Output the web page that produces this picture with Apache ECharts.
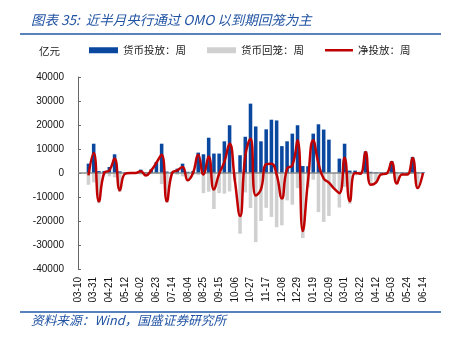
<!DOCTYPE html>
<html>
<head>
<meta charset="utf-8">
<script src="https://cdn.jsdelivr.net/npm/echarts@6/dist/echarts.min.js"></script>
<style>
html,body{margin:0;padding:0;background:#fff;}
#c{width:454px;height:341px;}
</style>
</head>
<body>
<div id="c"></div>
<script>
var categories = ['03-10','03-17','03-24','03-31','04-07','04-14','04-21','04-28','05-05','05-12','05-19','05-26',
'06-02','06-09','06-16','06-23','06-30','07-07','07-14','07-21','07-28','08-04','08-11',
'08-18','08-25','09-01','09-08','09-15','09-22','09-29','10-06','10-13','10-20','10-27',
'11-03','11-10','11-17','11-24','12-01','12-08','12-15','12-22','12-29','01-05','01-12',
'01-19','01-26','02-02','02-09','02-16','02-23','03-01','03-08','03-15','03-22','03-29',
'04-05','04-12','04-19','04-26','05-03','05-10','05-17','05-24','05-31','06-07','06-14'];

var injection = [null,null,3900,12200,800,800,2500,7800,700,300,200,300,
1400,300,1500,4600,12200,600,500,1800,3900,500,800,
8500,7800,14700,8100,8100,13200,19900,0,7400,15100,28900,
19400,13200,18200,22200,21900,11200,13200,16400,19900,2900,2800,
16400,20300,18100,13900,0,6000,12200,1000,1000,500,9000,
500,300,300,400,4900,300,300,300,6700,300,300];

var withdrawal = [null,null,-4900,-3900,-12600,-800,-1400,-1800,-7900,-600,-200,-300,
-700,-1300,-400,-300,-4600,-12400,-500,-700,-1400,-3500,-800,
-900,-8400,-7800,-15000,-8400,-8600,-7700,-3000,-25300,-8100,-14600,
-28800,-20000,-14500,-18300,-22600,-21800,-11400,-13200,-6300,-27100,-6000,
-2800,-16300,-20400,-17900,-6500,-14400,-5800,-12800,-1000,-800,-300,
-5400,-4300,-900,-700,-300,-4700,-900,-900,-400,-6600,-300];

var netInjection = [null,null,-1000,8300,-11800,0,1100,6000,-7200,-300,0,0,
700,-1000,1100,4300,7600,-11800,0,1100,2500,-3000,0,
7600,-600,6900,-6900,-300,4600,12200,-3000,-17900,7000,14300,
-9400,-6800,3700,3900,-700,-10600,1800,3200,13600,-24200,-3200,
13600,4000,-2300,-4000,-6500,-8400,6400,-11800,0,-300,8700,
-4900,-4000,-600,-300,4600,-4400,-600,-600,6300,-6300,0];

var seriesNames = ['货币投放：周','货币回笼：周','净投放：周'];
var yTicks = {min:-40000, max:40000, interval:10000};

var chart = echarts.init(document.getElementById('c'), null, {renderer:'canvas'});
var labelFont = 'Liberation Sans, Arial, sans-serif';
var cjk = '"Noto Sans CJK SC", sans-serif';
var legendText = {fontSize:10.5, color:'#222', fontFamily:cjk};

chart.setOption({
  animation:false,
  backgroundColor:'#fff',
  grid:{left:78, right:31, top:77, bottom:72, containLabel:false},
  legend:[
    {data:[{name:seriesNames[0], icon:'rect'}], left:89, top:45, itemWidth:29, itemHeight:6, itemGap:2, textStyle:legendText, padding:0, selectedMode:false},
    {data:[{name:seriesNames[1], icon:'rect'}], left:207, top:45, itemWidth:29, itemHeight:6, itemGap:2, textStyle:legendText, padding:0, selectedMode:false},
    {data:[{name:seriesNames[2], icon:'rect'}], left:325, top:45, itemWidth:28, itemHeight:2.5, itemGap:2, textStyle:legendText, padding:0, selectedMode:false}
  ],
  xAxis:{
    type:'category', data:categories, boundaryGap:false,
    axisLine:{show:false}, axisTick:{show:false},
    axisLabel:{interval:2, rotate:90, fontSize:10, color:'#111', fontFamily:labelFont, margin:8},
    splitLine:{show:false}
  },
  yAxis:{
    type:'value', min:yTicks.min, max:yTicks.max, interval:yTicks.interval,
    axisLine:{show:true, lineStyle:{color:'#666', width:1}},
    axisTick:{show:true, inside:true, length:3, lineStyle:{color:'#666'}},
    axisLabel:{fontSize:10, color:'#111', fontFamily:labelFont, margin:14,
      formatter:function(v){return String(v);}},
    splitLine:{show:false}
  },
  graphic:[
    {type:'text', left:31, top:13, style:{text:'图表 35:  近半月央行通过 OMO 以到期回笼为主', fill:'#2153A3', font:'italic 13.5px "Noto Sans CJK SC"'}},
    {type:'line', shape:{x1:20, y1:34, x2:441, y2:34}, style:{stroke:'#2158A8', lineWidth:1.5}},
    {type:'text', left:39, top:46, style:{text:'亿元', fill:'#222', font:'10.5px "Noto Sans CJK SC"'}},
    {type:'line', shape:{x1:20, y1:312, x2:441, y2:312}, style:{stroke:'#2158A8', lineWidth:1.5}},
    {type:'text', left:31, top:314, style:{text:'资料来源：Wind，国盛证券研究所', fill:'#2153A3', font:'italic 12.7px "Noto Sans CJK SC"'}}
  ],
  series:[
    {name:seriesNames[0], type:'bar', stack:'flow', data:injection, barWidth:'68%',
     itemStyle:{color:'#0A48A0'},
     markLine:{silent:true, symbol:'none', label:{show:false}, data:[{yAxis:0}],
       lineStyle:{color:'#8a8a8a', width:1.5, type:'solid'}}},
    {name:seriesNames[1], type:'bar', stack:'flow', data:withdrawal, barWidth:'68%',
     itemStyle:{color:'#D0D0D0'}},
    {name:seriesNames[2], type:'line', data:netInjection, smooth:0.5, symbol:'none', showSymbol:false,
     lineStyle:{color:'#C00000', width:2.5}, itemStyle:{color:'#C00000'}, z:5}
  ]
});
</script>
</body>
</html>
